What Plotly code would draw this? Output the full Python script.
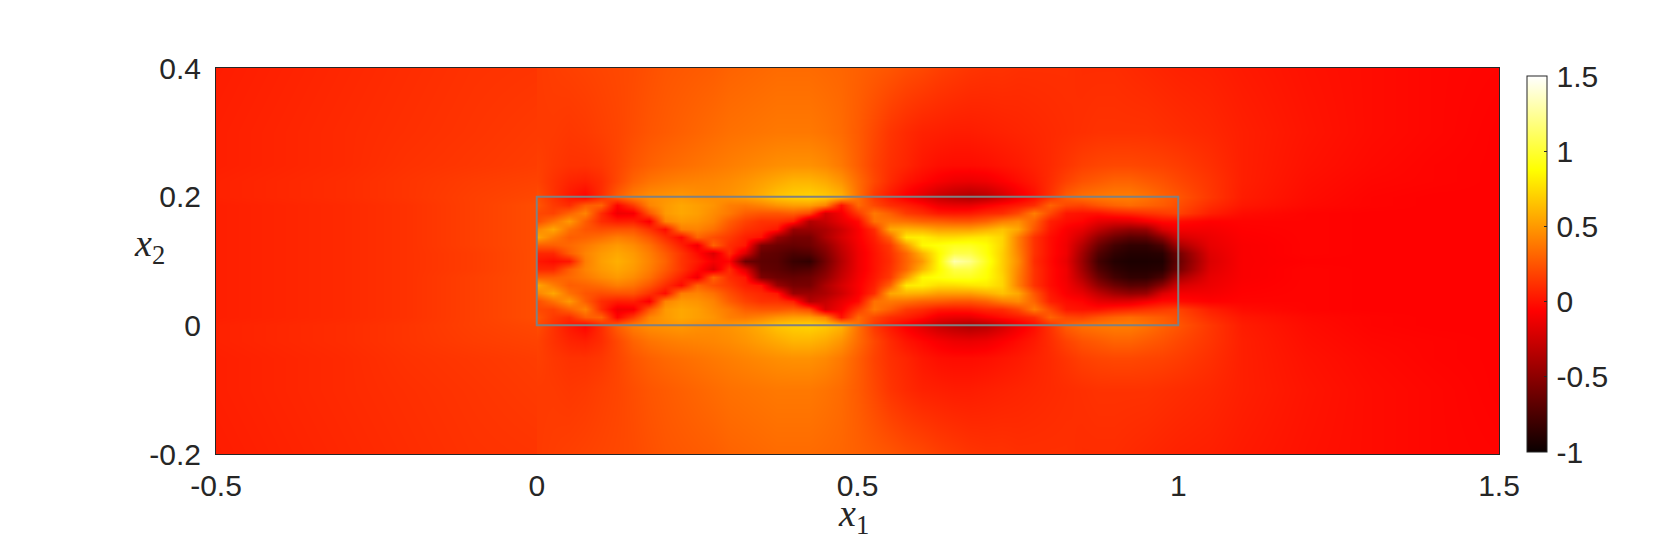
import plotly.graph_objects as go

x_left = [-0.5, -0.4, -0.3, -0.2, -0.1, -0.001]
x_in = [round(i * 0.025, 3) for i in range(41)]
x_right = [1.05, 1.1, 1.2, 1.3, 1.4, 1.5]
x = x_left + x_in + x_right
y_upper = [0.1, 0.1125, 0.125, 0.1375, 0.15, 0.1625, 0.175, 0.1875, 0.2, 0.225, 0.25, 0.3, 0.4]

r_100 = [.05,.07,.09,.12,.16,.22,
 .02,-.02,.02,.4,.52,.58,.52,.42,.3,.13,.03,-.1,-.05,-.62,-.68,-.7,-.82,-.85,-.6,-.35,-.12,.0,.1,.3,.5,.85,1.3,1.2,.95,.7,.45,.1,-.03,-.15,-.45,-.78,-.9,-.93,-.93,-.92,-.65,
 -.2,-.08,-.06,-.06,-.06,-.06]
r_1125 = [.05,.07,.09,.12,.16,.22,
 .08,.08,.28,.42,.5,.55,.5,.4,.27,.13,-.02,-.2,.1,-.2,-.65,-.68,-.75,-.72,-.55,-.32,-.12,.0,.12,.32,.6,.85,1.05,1.05,.9,.7,.42,.12,-.02,-.12,-.42,-.72,-.85,-.9,-.9,-.88,-.6,
 -.18,-.08,-.05,-.06,-.06,-.06]
r_125 = [.05,.07,.09,.12,.17,.22,
 .28,.28,.32,.38,.45,.5,.45,.35,.2,.05,-.12,.3,.1,.02,-.55,-.62,-.65,-.62,-.48,-.28,-.1,.02,.15,.5,.85,.9,.95,.95,.88,.72,.4,.12,-.02,-.12,-.35,-.62,-.78,-.85,-.85,-.75,-.4,
 -.15,-.08,-.05,-.06,-.06,-.06]
r_1375 = [.05,.07,.09,.12,.17,.22,
 .55,.4,.28,.3,.34,.4,.36,.25,.1,-.03,.3,.22,.15,.05,.0,-.45,-.58,-.58,-.38,-.22,-.08,.05,.3,.8,.82,.75,.75,.78,.8,.72,.4,.12,-.02,-.1,-.25,-.48,-.62,-.7,-.68,-.5,-.22,
 -.13,-.07,-.05,-.06,-.06,-.06]
r_150 = [.05,.07,.09,.12,.17,.22,
 .42,.55,.35,.25,.22,.24,.24,.12,-.02,.4,.42,.35,.22,.12,.08,.02,-.45,-.45,-.38,-.25,-.08,.1,.55,.6,.58,.52,.52,.52,.58,.65,.55,.25,.02,-.08,-.15,-.3,-.42,-.48,-.45,-.2,-.1,
 -.1,-.06,-.05,-.06,-.06,-.06]
r_1625 = [.05,.07,.09,.12,.17,.22,
 .22,.35,.5,.28,.1,.04,.05,-.08,.42,.5,.48,.42,.28,.18,.12,.12,.05,-.35,-.28,-.15,-.03,.35,.38,.35,.3,.28,.25,.25,.3,.4,.45,.3,.05,-.02,-.05,-.15,-.18,-.17,-.1,-.03,-.02,
 -.06,-.05,-.05,-.06,-.06,-.06]
r_175 = [.05,.07,.09,.12,.17,.22,
 .2,.18,.3,.42,.1,-.12,-.1,.25,.5,.55,.52,.45,.38,.28,.25,.25,.28,.2,-.22,-.1,.15,.38,.28,.15,.1,.03,.02,.03,.08,.1,.2,.4,.2,.02,.0,.0,.05,.08,.12,.15,.18,
 .05,-.02,-.05,-.06,-.06,-.06]
r_1875 = [.05,.07,.09,.12,.17,.22,
 .25,.15,.1,.28,.3,-.05,.15,.42,.5,.55,.52,.48,.4,.38,.42,.48,.52,.52,.42,.0,.32,.2,.1,.05,-.02,-.12,-.15,-.15,-.08,-.02,.03,.1,.3,.2,.18,.25,.3,.33,.3,.27,.22,
 .1,.02,-.03,-.05,-.06,-.06]
r_200 = [.06,.08,.1,.13,.17,.2,
 .22,.12,.02,-.05,.1,.28,.4,.46,.48,.5,.47,.46,.48,.52,.58,.66,.7,.72,.68,.6,.35,.14,.02,-.08,-.18,-.28,-.34,-.38,-.34,-.24,-.12,-.02,.12,.28,.35,.38,.4,.4,.36,.3,.25,
 .14,.04,-.02,-.05,-.06,-.06]
r_225 = [.06,.08,.1,.13,.16,.18,
 .18,.12,.07,.05,.1,.2,.3,.36,.39,.41,.42,.43,.45,.48,.52,.56,.6,.6,.56,.48,.33,.2,.09,.01,-.04,-.09,-.13,-.14,-.12,-.07,-.02,.03,.1,.18,.24,.27,.3,.3,.27,.24,.2,
 .13,.05,-.01,-.04,-.05,-.06]
r_250 = [.05,.07,.09,.12,.14,.16,
 .17,.14,.12,.12,.14,.19,.25,.29,.32,.34,.36,.38,.4,.42,.44,.46,.47,.47,.44,.38,.28,.18,.11,.07,.02,-.01,-.02,-.02,-.01,.01,.03,.06,.09,.13,.17,.19,.2,.2,.19,.18,.16,
 .11,.05,.0,-.03,-.05,-.06]
r_300 = [.05,.07,.09,.11,.13,.15,
 .15,.15,.14,.15,.17,.19,.22,.25,.27,.29,.31,.33,.35,.36,.37,.38,.38,.38,.36,.33,.27,.2,.13,.09,.06,.05,.04,.04,.05,.06,.07,.08,.09,.1,.11,.12,.12,.12,.12,.11,.1,
 .08,.05,.01,-.02,-.04,-.06]
r_400 = [.04,.06,.08,.1,.12,.13,
 .15,.16,.17,.18,.19,.2,.21,.23,.25,.26,.27,.28,.3,.31,.32,.33,.33,.33,.32,.31,.29,.27,.25,.22,.2,.17,.15,.13,.12,.12,.11,.11,.11,.11,.1,.1,.1,.09,.08,.07,.06,
 .05,.03,.0,-.02,-.04,-.05]

upper = [r_100, r_1125, r_125, r_1375, r_150, r_1625, r_175, r_1875, r_200, r_225, r_250, r_300, r_400]
y = [round(0.2 - v, 4) for v in reversed(y_upper[1:])] + y_upper
z = upper[:0:-1] + upper

x_ticks = [-0.5, 0, 0.5, 1, 1.5]
x_labels = ["-0.5", "0", "0.5", "1", "1.5"]
y_ticks = [-0.2, 0, 0.2, 0.4]
y_labels = ["-0.2", "0", "0.2", "0.4"]
c_ticks = [-1, -0.5, 0, 0.5, 1, 1.5]
c_labels = ["\u200a-1", "\u200a-0.5", "\u200a0", "\u200a0.5", "\u200a1", "\u200a1.5"]
box_x = [0, 1]
box_y = [0, 0.2]

FONT = "Liberation Sans"
TXT = "#262626"
SIZE = 30
OFF = 8                      # page margin of the browser
W, H = 1656 - 2 * OFF, 542 - 2 * OFF
L, R, T, B = 215.5 - OFF, 1499.5 - OFF, 68 - OFF, 454 - OFF
PW, PH = R - L, B - T

hot = [[0, "#0a0000"], [0.375, "#ff0000"], [0.75, "#ffff00"], [1, "#ffffff"]]

fig = go.Figure(go.Heatmap(
    x=x, y=y, z=z, zmin=-1, zmax=1.5, zsmooth="best", colorscale=hot, hoverinfo="skip",
    colorbar=dict(
        tickmode="array", tickvals=c_ticks, ticktext=c_labels,
        tickfont=dict(family=FONT, size=SIZE, color=TXT),
        ticks="inside", ticklen=3, tickcolor="#262626", tickwidth=1,
        thicknessmode="pixels", thickness=20, lenmode="pixels", len=376,
        xref="paper", yref="paper",
        x=(1528 - 215.5) / PW, xanchor="left", y=(454 - 452) / PH, yanchor="bottom",
        outlinecolor="#262626", outlinewidth=1, borderwidth=0, xpad=0, ypad=0,
    ),
))
fig.add_shape(type="rect", xref="x", yref="y", x0=box_x[0], x1=box_x[1], y0=box_y[0], y1=box_y[1],
              line=dict(color="#808080", width=2), fillcolor="rgba(0,0,0,0)")
axis = dict(showgrid=False, zeroline=False, showline=True, mirror=True, linecolor="#262626", linewidth=1,
            ticks="", tickfont=dict(family=FONT, size=SIZE, color=TXT), tickmode="array")
fig.update_layout(
    width=W, height=H, margin=dict(l=L, r=W - R, t=T, b=H - B, pad=0, autoexpand=False),
    paper_bgcolor="white", plot_bgcolor="white",
    xaxis=dict(axis, range=[-0.5, 1.5], tickvals=x_ticks, ticktext=x_labels, ticklabelstandoff=5),
    yaxis=dict(axis, range=[-0.2, 0.4], tickvals=y_ticks, ticktext=y_labels, ticklabelstandoff=8),
    annotations=[
        dict(text="<i>x</i><sub>1</sub>", xref="paper", yref="paper", x=0.4965, y=-0.16, xanchor="center", yanchor="middle",
             showarrow=False, font=dict(family="Liberation Serif", size=38, color=TXT)),
        dict(text="<i>x</i><sub>2</sub>", xref="paper", yref="paper", x=-0.0518, y=0.54, xanchor="center", yanchor="middle",
             showarrow=False, font=dict(family="Liberation Serif", size=38, color=TXT)),
    ],
)
fig.write_html("out.html")
